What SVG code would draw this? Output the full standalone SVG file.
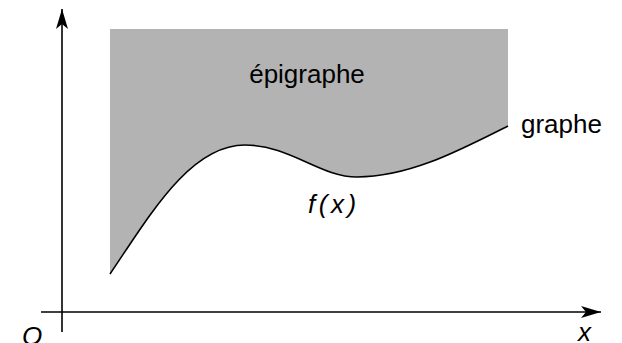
<svg xmlns="http://www.w3.org/2000/svg" width="622" height="343" viewBox="0 0 622 343">
<style>
.ax{stroke:#000;stroke-width:1.6;fill:none}
.cv{stroke:#000;stroke-width:1.6;fill:none}
.t{font-family:"Liberation Sans",Arial,sans-serif;font-size:26px;fill:#000}
.i{font-style:italic}
</style>
<defs>
<marker id="ah" viewBox="0 0 20 12" refX="20" refY="6" markerWidth="20" markerHeight="12" markerUnits="userSpaceOnUse" orient="auto">
<path d="M0,0 L20,6 L0,12 L5,6 Z" fill="#000"/>
</marker>
</defs>
<g id="epigraph">
<path d="M110,274 L110,29 L508,29 L508,126 C460,150 410,177 357,177 C320,177 290,145 245,145 C190,145 150,215 110,274 Z" fill="#b3b3b3"/>
<text class="t" x="307" y="83" text-anchor="middle">épigraphe</text>
</g>
<g id="graph">
<path class="cv" d="M110,274 C150,215 190,145 245,145 C290,145 320,177 357,177 C410,177 460,150 508,126"/>
<text class="t" x="521" y="133">graphe</text>
<text class="t i" x="308" y="213" letter-spacing="3.5">f(x)</text>
</g>
<g id="connectors">
<line class="ax" x1="62" y1="332" x2="62" y2="9" marker-end="url(#ah)"/>
<line class="ax" x1="41" y1="312" x2="601" y2="312" marker-end="url(#ah)"/>
</g>
<g id="labels">
<text class="t i" x="22" y="345">O</text>
<text class="t i" x="578" y="341">x</text>
</g>
</svg>
